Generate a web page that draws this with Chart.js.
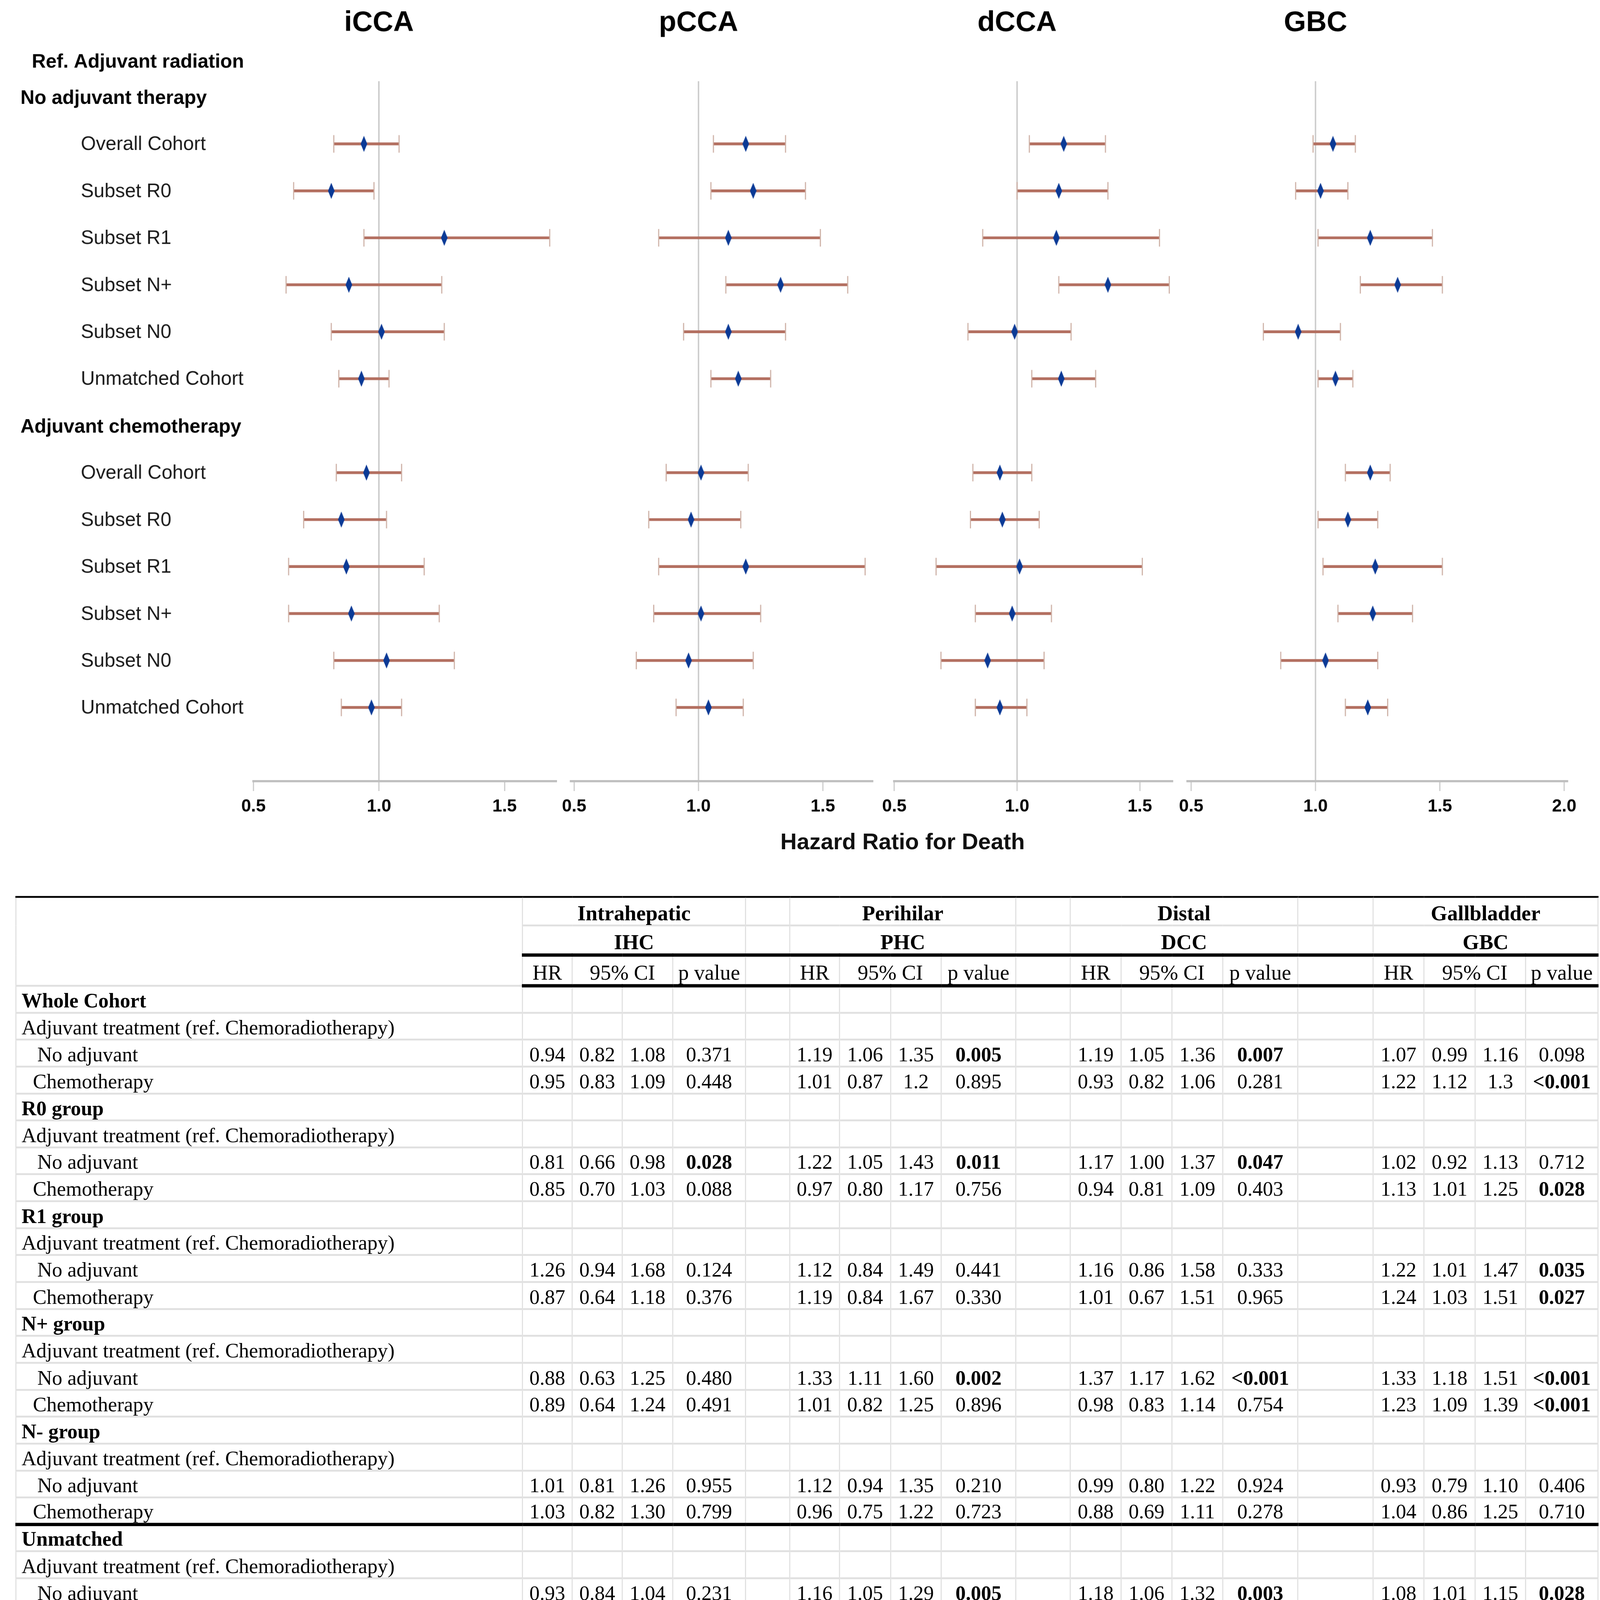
<!DOCTYPE html>
<html>
<head>
<meta charset="utf-8">
<script src="https://cdn.jsdelivr.net/npm/chart.js@4.4.0/dist/chart.umd.min.js"></script>
<style>
  html, body { margin: 0; padding: 0; background: #fff; overflow: hidden; }
  #page { position: absolute; left: 0; top: 0; width: 4375px; height: 4506px; transform-origin: 0 0; background: #fff; }
  canvas.panel { position: absolute; top: 0; }
  #xtitle {
    position: absolute; left: 2468px; top: 2270px; transform: translateX(-50%);
    font: bold 62px "Liberation Sans", Arial, sans-serif; line-height: 62px;
    white-space: nowrap; color: #111;
  }
  #tbl {
    position: absolute; left: 42px; top: 2450px; width: 4326px;
    border-collapse: collapse; table-layout: fixed;
    font-family: "Liberation Serif", "Times New Roman", serif; font-size: 56px; color: #000;
  }
  #tbl td {
    border-left: 3px solid #e0e0e0; border-right: 3px solid #e0e0e0; border-bottom: 5px solid #e0e0e0;
    padding: 0 0 1px 0; text-align: center; vertical-align: bottom; line-height: 60px;
    white-space: nowrap; overflow: visible;
  }
  #tbl tr { height: 73.65px; }
  #tbl tr.h1 { height: 78px; }
  #tbl tr.h2 { height: 81px; }
  #tbl tr.h3 { height: 84px; }
  #tbl tr.h1 td { border-top: 5px solid #000; font-size: 58px; font-weight: bold; }
  #tbl tr.h2 td { border-bottom: 9px solid #000; font-size: 58px; font-weight: bold; }
  #tbl tr.h3 td { border-bottom: 9px solid #000; font-size: 58px; }
  #tbl tr.sep td { border-top: 9px solid #000; }
  #tbl tr.last td { border-bottom: 7px solid #000; }
  #tbl td.lab { text-align: left; padding-left: 14px; }
  #tbl td.lab.grp { font-weight: bold; }
  #tbl td.lab.noadj { padding-left: 57px; }
  #tbl td.lab.chemo { padding-left: 45px; }
  #tbl td.sig { font-weight: bold; }
</style>
</head>
<body>
<div id="page">
  <canvas id="p0" class="panel"></canvas>
  <canvas id="p1" class="panel"></canvas>
  <canvas id="p2" class="panel"></canvas>
  <canvas id="p3" class="panel"></canvas>
  <div id="xtitle">Hazard Ratio for Death</div>
  <table id="tbl"></table>
</div>

<script>
// ---- data -------------------------------------------------------------
const PANEL_TITLES = ['iCCA', 'pCCA', 'dCCA', 'GBC'];
const TYPE_NAMES   = ['Intrahepatic', 'Perihilar', 'Distal', 'Gallbladder'];
const TYPE_CODES   = ['IHC', 'PHC', 'DCC', 'GBC'];
const REF_LABEL    = 'Ref. Adjuvant radiation';
const SECTIONS     = ['No adjuvant therapy', 'Adjuvant chemotherapy'];
const SUBSETS      = ['Overall Cohort', 'Subset R0', 'Subset R1', 'Subset N+', 'Subset N0', 'Unmatched Cohort'];
const GROUPS       = ['Whole Cohort', 'R0 group', 'R1 group', 'N+ group', 'N- group', 'Unmatched'];
const ADJ_ROW      = 'Adjuvant treatment (ref. Chemoradiotherapy)';
const TREATMENTS   = ['No adjuvant', 'Chemotherapy'];
const COL_HEADS    = ['HR', '95% CI', 'p value'];

const X_TICKS = [
  [0.5, 1.0, 1.5],
  [0.5, 1.0, 1.5],
  [0.5, 1.0, 1.5],
  [0.5, 1.0, 1.5, 2.0],
];
const X_MIN = [0.5, 0.487, 0.5, 0.485];
const X_MAX = [1.706, 1.70, 1.633, 2.013];

// HR, lower 95% CI, upper 95% CI, p value; rows follow GROUPS
const IHC_NO_ADJ = [
  ['0.94', '0.82', '1.08', '0.371'],
  ['0.81', '0.66', '0.98', '0.028'],
  ['1.26', '0.94', '1.68', '0.124'],
  ['0.88', '0.63', '1.25', '0.480'],
  ['1.01', '0.81', '1.26', '0.955'],
  ['0.93', '0.84', '1.04', '0.231'],
];
const IHC_CHEMO = [
  ['0.95', '0.83', '1.09', '0.448'],
  ['0.85', '0.70', '1.03', '0.088'],
  ['0.87', '0.64', '1.18', '0.376'],
  ['0.89', '0.64', '1.24', '0.491'],
  ['1.03', '0.82', '1.30', '0.799'],
  ['0.97', '0.85', '1.09', '0.562'],
];
const PHC_NO_ADJ = [
  ['1.19', '1.06', '1.35', '0.005'],
  ['1.22', '1.05', '1.43', '0.011'],
  ['1.12', '0.84', '1.49', '0.441'],
  ['1.33', '1.11', '1.60', '0.002'],
  ['1.12', '0.94', '1.35', '0.210'],
  ['1.16', '1.05', '1.29', '0.005'],
];
const PHC_CHEMO = [
  ['1.01', '0.87', '1.2',  '0.895'],
  ['0.97', '0.80', '1.17', '0.756'],
  ['1.19', '0.84', '1.67', '0.330'],
  ['1.01', '0.82', '1.25', '0.896'],
  ['0.96', '0.75', '1.22', '0.723'],
  ['1.04', '0.91', '1.18', '0.587'],
];
const DCC_NO_ADJ = [
  ['1.19', '1.05', '1.36', '0.007'],
  ['1.17', '1.00', '1.37', '0.047'],
  ['1.16', '0.86', '1.58', '0.333'],
  ['1.37', '1.17', '1.62', '<0.001'],
  ['0.99', '0.80', '1.22', '0.924'],
  ['1.18', '1.06', '1.32', '0.003'],
];
const DCC_CHEMO = [
  ['0.93', '0.82', '1.06', '0.281'],
  ['0.94', '0.81', '1.09', '0.403'],
  ['1.01', '0.67', '1.51', '0.965'],
  ['0.98', '0.83', '1.14', '0.754'],
  ['0.88', '0.69', '1.11', '0.278'],
  ['0.93', '0.83', '1.04', '0.192'],
];
const GBC_NO_ADJ = [
  ['1.07', '0.99', '1.16', '0.098'],
  ['1.02', '0.92', '1.13', '0.712'],
  ['1.22', '1.01', '1.47', '0.035'],
  ['1.33', '1.18', '1.51', '<0.001'],
  ['0.93', '0.79', '1.10', '0.406'],
  ['1.08', '1.01', '1.15', '0.028'],
];
const GBC_CHEMO = [
  ['1.22', '1.12', '1.3',  '<0.001'],
  ['1.13', '1.01', '1.25', '0.028'],
  ['1.24', '1.03', '1.51', '0.027'],
  ['1.23', '1.09', '1.39', '<0.001'],
  ['1.04', '0.86', '1.25', '0.710'],
  ['1.21', '1.12', '1.29', '<0.001'],
];

const TYPE_DATA = [
  [IHC_NO_ADJ, IHC_CHEMO],
  [PHC_NO_ADJ, PHC_CHEMO],
  [DCC_NO_ADJ, DCC_CHEMO],
  [GBC_NO_ADJ, GBC_CHEMO],
];

// ---- layout -------------------------------------------------------------
// page is laid out at 4375px wide, then fitted to the real viewport
const PAGE_W = 4375;
document.getElementById('page').style.transform = `scale(${window.innerWidth / PAGE_W})`;

const AREA_L = [693, 1561, 2438, 3247];
const AREA_R = [1521, 2386, 3206, 4286];
const PAD_L  = [693, 40, 40, 40];
const PAD_R  = 40;
const CANVAS_H = 2300;

const SANS = '"Liberation Sans", Arial, sans-serif';
const CI_COLOR  = '#b36f60';
const CAP_COLOR = '#cdb0a5';
const HR_COLOR  = '#0b3a96';

// plot rows: 0 = section header, 1..6 subsets, 7 = section header, 8..13 subsets
function rowOf(section, group) { return section * 7 + 1 + group; }

function diamond(w, h, color) {
  const c = document.createElement('canvas');
  c.width = w; c.height = h;
  const g = c.getContext('2d');
  g.fillStyle = color;
  g.beginPath();
  g.moveTo(w / 2, 0); g.lineTo(w, h / 2); g.lineTo(w / 2, h); g.lineTo(0, h / 2);
  g.closePath();
  g.fill();
  return c;
}
const MARKER = diamond(18, 44, HR_COLOR);

const panelTitle = {
  id: 'panelTitle',
  afterDraw(chart, args, opts) {
    const ctx = chart.ctx;
    ctx.save();
    ctx.font = 'bold 78px ' + SANS;
    ctx.fillStyle = '#000';
    ctx.textAlign = 'center';
    ctx.textBaseline = 'alphabetic';
    ctx.fillText(opts.text, chart.scales.x.getPixelForValue(1), 85);
    ctx.restore();
  }
};

const rowLabels = {
  id: 'rowLabels',
  afterDraw(chart, args, opts) {
    if (!opts.show) return;
    const ctx = chart.ctx, y = chart.scales.y;
    ctx.save();
    ctx.textAlign = 'left';
    ctx.textBaseline = 'alphabetic';
    ctx.fillStyle = '#000';
    ctx.font = 'bold 53px ' + SANS;
    ctx.fillText(REF_LABEL, 87, y.getPixelForValue(-0.77) + 19);
    SECTIONS.forEach((s, si) => {
      ctx.font = 'bold 53px ' + SANS;
      ctx.fillStyle = '#000';
      ctx.fillText(s, 56, y.getPixelForValue(si * 7) + 19);
      ctx.font = '53px ' + SANS;
      ctx.fillStyle = '#1a1a1a';
      SUBSETS.forEach((lab, gi) => {
        ctx.fillText(lab, 221, y.getPixelForValue(rowOf(si, gi)) + 17);
      });
    });
    ctx.restore();
  }
};

function buildPanel(t) {
  const points = [], caps = [], ci = [];
  TYPE_DATA[t].forEach((rows, si) => {
    rows.forEach((v, gi) => {
      const y = rowOf(si, gi);
      points.push({ x: Number(v[0]), y });
      caps.push({ x: Number(v[1]), y }, { x: Number(v[2]), y });
      ci.push({ x: [Number(v[1]), Number(v[2])], y });
    });
  });

  const cv = document.getElementById('p' + t);
  const w = AREA_R[t] - AREA_L[t] + PAD_L[t] + PAD_R;
  cv.style.left = (AREA_L[t] - PAD_L[t]) + 'px';
  cv.style.width = w + 'px'; cv.style.height = CANVAS_H + 'px';
  cv.width = w; cv.height = CANVAS_H;

  new Chart(cv, {
    type: 'bar',
    data: {
      datasets: [
        { type: 'scatter', data: points, pointStyle: MARKER, pointRadius: 22, pointHoverRadius: 22, order: 0 },
        { type: 'scatter', data: caps, pointStyle: 'line', rotation: 90, pointRadius: 24, pointHoverRadius: 24,
          borderColor: CAP_COLOR, pointBorderColor: CAP_COLOR, borderWidth: 3, order: 1 },
        { type: 'bar', indexAxis: 'y', data: ci, backgroundColor: CI_COLOR, barThickness: 7, order: 2 },
      ]
    },
    options: {
      responsive: false,
      animation: false,
      events: [],
      layout: { padding: { left: PAD_L[t], right: PAD_R, top: 222, bottom: 34 } },
      plugins: {
        legend: { display: false },
        tooltip: { enabled: false },
        panelTitle: { text: PANEL_TITLES[t] },
        rowLabels: { show: t === 0 },
      },
      scales: {
        x: {
          type: 'linear',
          position: 'bottom',
          offset: false,
          min: X_MIN[t],
          max: X_MAX[t],
          afterBuildTicks: s => { s.ticks = X_TICKS[t].map(v => ({ value: v })); },
          afterFit: s => { s.height = 130; },
          border: { display: true, color: '#bfbfbf', width: 6 },
          grid: {
            offset: false,
            color: c => (c.tick && c.tick.value === 1) ? '#cccccc' : 'rgba(0,0,0,0)',
            lineWidth: 4,
            tickLength: 27,
            tickColor: '#c8c8c8',
            tickWidth: 3,
          },
          ticks: {
            color: '#000',
            padding: 14,
            maxRotation: 0,
            autoSkip: false,
            font: { family: SANS, size: 48, weight: 'bold' },
            callback: v => Number(v).toFixed(1),
          },
        },
        y: {
          type: 'linear', reverse: true, offset: false, min: -0.335, max: 14.57, display: false,
          grid: { offset: false },
        },
      },
    },
    plugins: [panelTitle, rowLabels],
  });
}

// ---- table --------------------------------------------------------------
const COL_W = [1385, 136, 137, 138, 199, 121, 136, 140, 138, 204, 149, 139, 139, 139, 205, 206, 139, 140, 138, 198];

function buildTable() {
  let h = '<colgroup>' + COL_W.map(w => `<col style="width:${w}px">`).join('') + '</colgroup>';
  const spacer = t => (t < TYPE_NAMES.length - 1 ? '<td></td>' : '');

  h += '<tr class="h1"><td rowspan="3" class="lab"></td>';
  TYPE_NAMES.forEach((n, t) => { h += `<td colspan="4">${n}</td>` + spacer(t); });
  h += '</tr><tr class="h2">';
  TYPE_CODES.forEach((n, t) => { h += `<td colspan="4">${n}</td>` + spacer(t); });
  h += '</tr><tr class="h3">';
  TYPE_CODES.forEach((n, t) => {
    h += `<td>${COL_HEADS[0]}</td><td colspan="2">${COL_HEADS[1]}</td><td>${COL_HEADS[2]}</td>` + spacer(t);
  });
  h += '</tr>';

  const empty = () => TYPE_NAMES.map((n, t) => '<td></td><td></td><td></td><td></td>' + spacer(t)).join('');

  GROUPS.forEach((g, gi) => {
    const sep = gi === GROUPS.length - 1 ? ' class="sep"' : '';
    h += `<tr${sep}><td class="lab grp">${g}</td>${empty()}</tr>`;
    h += `<tr><td class="lab">${ADJ_ROW}</td>${empty()}</tr>`;
    TREATMENTS.forEach((tr, si) => {
      const last = (gi === GROUPS.length - 1 && si === TREATMENTS.length - 1) ? ' class="last"' : '';
      h += `<tr${last}><td class="lab ${si === 0 ? 'noadj' : 'chemo'}">${tr}</td>`;
      TYPE_DATA.forEach((d, t) => {
        const v = d[si][gi];
        const p = v[3];
        const sig = p.startsWith('<') || parseFloat(p) < 0.05;
        h += `<td>${v[0]}</td><td>${v[1]}</td><td>${v[2]}</td><td class="${sig ? 'sig' : ''}">${p}</td>` + spacer(t);
      });
      h += '</tr>';
    });
  });
  document.getElementById('tbl').innerHTML = h;
}

[0, 1, 2, 3].forEach(buildPanel);
buildTable();
</script>
</body>
</html>
